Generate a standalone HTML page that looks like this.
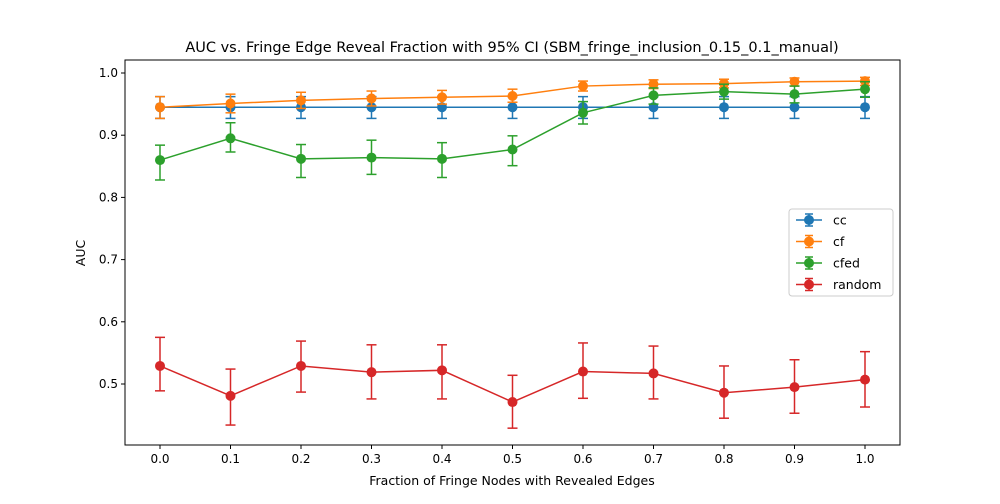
<!DOCTYPE html>
<html><head><meta charset="utf-8"><style>
body{margin:0;background:#fff;font-family:"DejaVu Sans","Liberation Sans",sans-serif}
</style></head><body>
<svg id="c" width="1000" height="500" xmlns="http://www.w3.org/2000/svg"></svg>
<script>
const xs=[0,0.1,0.2,0.3,0.4,0.5,0.6,0.7,0.8,0.9,1.0];
const xTicks=["0.0","0.1","0.2","0.3","0.4","0.5","0.6","0.7","0.8","0.9","1.0"];
const yTicks=[0.5,0.6,0.7,0.8,0.9,1.0];
const seriesNames=["cc","cf","cfed","random"];
const colors=["#1f77b4","#ff7f0e","#2ca02c","#d62728"];
const ccMean=[0.945,0.945,0.945,0.945,0.945,0.945,0.945,0.945,0.945,0.945,0.945];
const ccLo=[0.927,0.927,0.927,0.927,0.927,0.927,0.927,0.927,0.927,0.927,0.927];
const ccHi=[0.962,0.962,0.962,0.962,0.962,0.962,0.962,0.962,0.962,0.962,0.962];
const cfMean=[0.945,0.951,0.956,0.959,0.961,0.963,0.979,0.982,0.983,0.986,0.987];
const cfLo=[0.927,0.936,0.943,0.947,0.950,0.953,0.971,0.975,0.976,0.979,0.980];
const cfHi=[0.962,0.966,0.969,0.971,0.972,0.974,0.987,0.989,0.990,0.992,0.993];
const cfedMean=[0.860,0.895,0.862,0.864,0.862,0.877,0.936,0.964,0.970,0.966,0.974];
const cfedLo=[0.828,0.873,0.832,0.837,0.832,0.851,0.918,0.950,0.958,0.952,0.961];
const cfedHi=[0.884,0.920,0.885,0.892,0.888,0.899,0.954,0.976,0.982,0.979,0.986];
const rMean=[0.529,0.481,0.529,0.519,0.522,0.471,0.520,0.517,0.486,0.495,0.507];
const rLo=[0.489,0.434,0.487,0.476,0.476,0.429,0.477,0.476,0.445,0.453,0.463];
const rHi=[0.575,0.524,0.569,0.563,0.563,0.514,0.566,0.561,0.529,0.539,0.552];
const means=[ccMean,cfMean,cfedMean,rMean],los=[ccLo,cfLo,cfedLo,rLo],his=[ccHi,cfHi,cfedHi,rHi];
const L=125,R=900,T=60,B=445;
const X=v=>160+705*v;
const Y=v=>73+(1-v)*622;
const svg=document.getElementById('c');
const NS="http://www.w3.org/2000/svg";
function mk(t,a,p){const e=document.createElementNS(NS,t);for(const k in a)e.setAttribute(k,a[k]);(p||svg).appendChild(e);return e;}
function txt(s,a){const e=mk('text',a);e.textContent=s;return e;}
const frame=mk('rect',{x:L,y:T,width:R-L,height:B-T,fill:'none',stroke:'#000','stroke-width':1});


xs.forEach((v,i)=>{
  const l=mk('line',{x1:X(v),x2:X(v),y1:B,y2:B+4,stroke:'#000'});
  
  
  const t=txt(xTicks[i],{x:X(v),y:B+18,'text-anchor':'middle','font-size':12});
  
  
});
yTicks.forEach(v=>{
  const l=mk('line',{x1:L-4,x2:L,y1:Y(v),y2:Y(v),stroke:'#000'});
  
  
  const t=txt(v.toFixed(1),{x:L-7,y:Y(v)+4,'text-anchor':'end','font-size':12});
  
  
});
const tt=txt('AUC vs. Fringe Edge Reveal Fraction with 95% CI (SBM_fringe_inclusion_0.15_0.1_manual)',{x:512,y:52,'text-anchor':'middle','font-size':14.5});


const xt=txt('Fraction of Fringe Nodes with Revealed Edges',{x:512,y:485,'text-anchor':'middle','font-size':12.5});


const yt=txt('AUC',{x:85,y:253,'text-anchor':'middle','font-size':12.5,transform:'rotate(-90 85 253)'});


means.forEach((m,s)=>{
  const g=mk('g',{});
  
  
  const c=colors[s];
  xs.forEach((v,i)=>{
    const x=X(v);
    mk('line',{x1:x,x2:x,y1:Y(los[s][i]),y2:Y(his[s][i]),stroke:c,'stroke-width':1.5},g);
    mk('line',{x1:x-5,x2:x+5,y1:Y(los[s][i]),y2:Y(los[s][i]),stroke:c,'stroke-width':1.5},g);
    mk('line',{x1:x-5,x2:x+5,y1:Y(his[s][i]),y2:Y(his[s][i]),stroke:c,'stroke-width':1.5},g);
  });
  mk('polyline',{points:xs.map((v,i)=>X(v)+','+Y(m[i])).join(' '),fill:'none',stroke:c,'stroke-width':1.5},g);
  xs.forEach((v,i)=>{
    const p=mk('circle',{cx:X(v),cy:Y(m[i]),r:5,fill:c},g);
    
    
  });
});
const lg=mk('g',{});


mk('rect',{x:789,y:209,width:104,height:87,rx:3,fill:'#fff','fill-opacity':0.8,stroke:'#ccc'},lg);
seriesNames.forEach((n,i)=>{
  const y=220+i*21.5,c=colors[i];
  mk('line',{x1:796,x2:822,y1:y,y2:y,stroke:c,'stroke-width':1.5},lg);
  mk('line',{x1:809,x2:809,y1:y-6,y2:y+6,stroke:c,'stroke-width':1.5},lg);
  mk('line',{x1:805,x2:813,y1:y-6,y2:y-6,stroke:c,'stroke-width':1.5},lg);
  mk('line',{x1:805,x2:813,y1:y+6,y2:y+6,stroke:c,'stroke-width':1.5},lg);
  mk('circle',{cx:809,cy:y,r:5,fill:c},lg);
  const t=txt(n,{x:833,y:y+4.5,'font-size':12.5},lg);
  
  
});
</script>
</body></html>
